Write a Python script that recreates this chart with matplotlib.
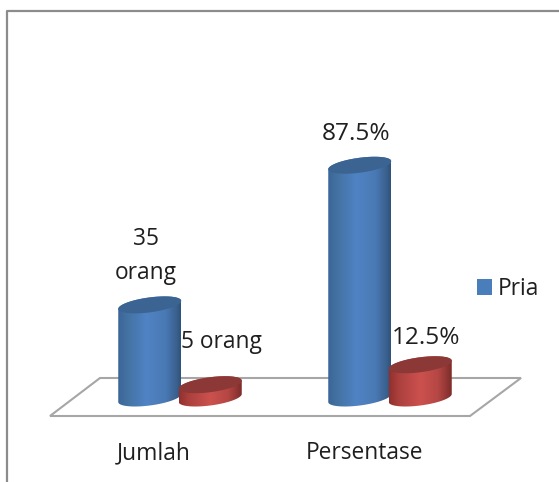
import numpy as np
import matplotlib
matplotlib.use("Agg")
import matplotlib.pyplot as plt
from matplotlib.patches import Patch, Polygon
from matplotlib.colors import LinearSegmentedColormap
from matplotlib.lines import Line2D
from matplotlib.transforms import Affine2D

categories = ["Jumlah", "Persentase"]
series_name = "Pria"
pria_values = [35, 87.5]
other_values = [5, 12.5]
pria_labels = ["35\norang", "87.5%"]
other_labels = ["5 orang", "12.5%"]

W, H = 559, 482
plt.rcParams["font.family"] = ["Open Sans", "DejaVu Sans"]
fig = plt.figure(figsize=(W / 100, H / 100), dpi=100, facecolor="white")
ax = fig.add_axes([0, 0, 1, 1])
ax.axis("off")

PX_X, PX_Y = 210.0, 2.66      # pixels per data unit
X0, Y0 = 180.0, 398.0         # pixel of category 0, value 0
XLIM = (-X0 / PX_X, (W - X0) / PX_X)
YLIM = (-(H - Y0) / PX_Y, Y0 / PX_Y)
BAR_W, OFFSET = 63 / PX_X, 60.5 / PX_X
RX, RY, TILT = 31.5, 7.5, 4.0  # ellipse shape, pixels

px = Affine2D().scale(1, -1).translate(0, H)  # top-left pixel layout transform


def ell(xc, y, a, b):
    t = np.linspace(a, b, 60)
    return np.c_[xc + RX * np.cos(t) / PX_X,
                 y + (RY * np.sin(t) + TILT * np.cos(t)) / PX_Y]


def cylinder(xc, value, cmap, top_color, z):
    outline = np.vstack([ell(xc, 0, np.pi, 2 * np.pi), ell(xc, value, 0, np.pi)])
    patch = Polygon(outline, closed=True, fc="none", ec="none", zorder=z)
    ax.add_patch(patch)
    grad = np.linspace(0, 1, 128).reshape(1, -1)
    im = ax.imshow(grad, cmap=cmap, aspect="auto", zorder=z, interpolation="bilinear",
                   extent=[xc - BAR_W / 2, xc + BAR_W / 2, -RY * 2 / PX_Y, value + RY * 2 / PX_Y])
    im.set_clip_path(patch)
    ax.add_patch(Polygon(ell(xc, value, 0, 2 * np.pi), closed=True, fc=top_color,
                         ec="none", zorder=z + 0.1))


blue = LinearSegmentedColormap.from_list("b", [(0, "#3a6598"), (0.12, "#42709f"), (0.45, "#5083c4"),
                                               (0.75, "#4a7ab5"), (0.93, "#3a618f"), (1, "#31527a")])
red = LinearSegmentedColormap.from_list("r", [(0, "#92302d"), (0.15, "#ab403d"), (0.5, "#cc514e"),
                                              (0.78, "#b54744"), (0.93, "#8e3533"), (1, "#7c2c2a")])

# frame and floor
ax.add_line(Line2D([7, 7, W], [H, 11, 11], transform=px, color="#8c8c8c", lw=1.6, zorder=1))
floor = [(50, 416), (100, 378), (521, 378), (470, 416)]
ax.add_patch(Polygon(floor, closed=True, transform=px, fc="white", ec="#a6a6a6", lw=1.5, zorder=1))

for i in range(len(categories)):
    cylinder(i - OFFSET / 2, pria_values[i], blue, "#3c6493", 2 + i * 0.01)
    cylinder(i + OFFSET / 2, other_values[i], red, "#8b3836", 3 + i * 0.01)

FS = 16.4
TXT = "#1f1f1f"
label_px = {"35\norang": (146, 256), "87.5%": (356, 134), "5 orang": (221, 342), "12.5%": (426, 338)}
for s in pria_labels + other_labels:
    ax.text(*label_px[s], s, transform=px, ha="center", va="center",
            fontsize=17.6 if "%" in s else FS, color=TXT, linespacing=1.55, zorder=5)
for s, xp in zip(categories, (154, 364)):
    ax.text(xp, 453, s, transform=px, ha="center", va="center", fontsize=FS, color=TXT, zorder=5)

ax.legend(handles=[Patch(fc="#4a7ebb", ec="none", label=series_name)],
          loc="center left", bbox_to_anchor=(477 / W, 1 - 289 / H), frameon=False,
          fontsize=FS, handlelength=0.66, handleheight=0.66, handletextpad=0.26,
          borderpad=0, borderaxespad=0, labelcolor=TXT)

ax.set_xlim(*XLIM)
ax.set_ylim(*YLIM)
fig.savefig("out.png", dpi=100, facecolor="white")
